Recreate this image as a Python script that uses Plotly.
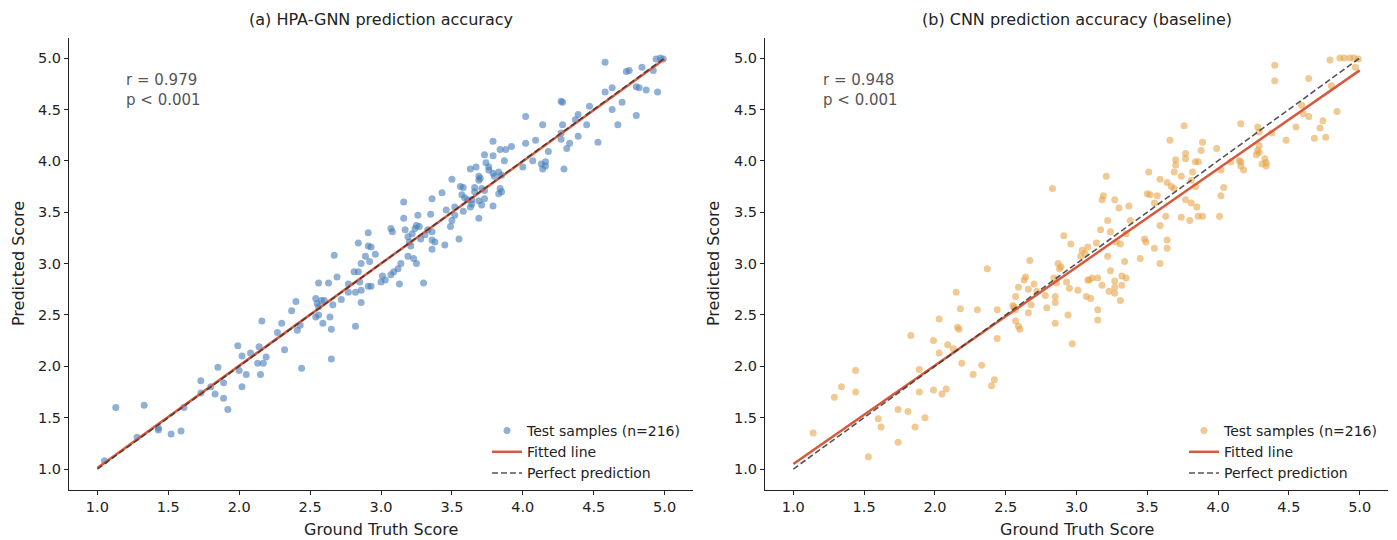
import plotly.graph_objects as go

W, H = 1397, 540

# ---------------- data ----------------
GNN_TRUE = [
    1.05, 1.13, 1.33, 1.28, 1.43, 1.43, 1.52, 1.59, 1.61, 1.73, 1.73, 1.80, 1.85, 1.83, 1.89, 1.89, 1.92, 1.99, 2.02, 2.00, 2.02,
    2.91, 3.07, 3.08, 2.84, 2.91, 2.93, 2.96, 2.89, 2.67, 2.86, 2.92, 2.81, 2.84, 2.69, 2.56, 2.63, 3.01, 3.07, 3.00, 3.03,
    2.91, 2.93, 2.86, 2.82, 2.77, 2.77, 2.85, 2.72, 2.66, 2.86, 2.54, 2.58, 2.60, 2.55, 2.56, 2.40, 2.37, 2.54, 2.56, 2.64,
    2.59, 2.65, 2.82, 2.43, 2.41, 2.30, 2.16, 2.27, 2.14, 2.08, 2.19, 2.32, 2.13, 2.17, 2.05, 2.15, 2.44, 2.65,
    4.02, 4.14, 3.79, 4.02, 4.09, 3.84, 3.88, 3.92, 3.73, 3.79, 4.07, 4.13, 3.87, 3.74, 3.76, 3.76, 3.63, 3.67, 4.00, 4.14,
    3.79, 3.83, 3.85, 3.80, 3.69, 3.70, 3.69, 3.50, 3.56, 3.58, 3.66, 3.66, 3.71, 3.73, 3.84, 3.85, 3.83, 3.43, 3.36, 3.16,
    3.57, 3.59, 3.61, 3.64, 3.69, 3.73, 3.71, 3.79, 3.63, 3.64, 3.46, 3.52, 3.58, 3.26, 3.35, 3.16, 3.52, 3.50, 3.69, 3.25,
    3.27, 3.24, 3.17, 3.19, 3.22, 3.31, 3.33, 3.36, 3.49, 3.28, 3.36, 3.38, 3.55, 3.20, 3.21, 3.45, 3.36, 3.19, 3.23, 3.25,
    3.14, 3.12, 3.09, 3.13, 3.30,
    4.94, 4.97, 4.99, 4.58, 4.84, 4.73, 4.75, 4.92, 4.80, 4.82, 4.87, 4.95, 4.63, 4.58, 4.70, 4.27, 4.28, 4.47, 4.63, 4.80,
    4.39, 4.37, 4.28, 4.45, 4.67, 4.27, 4.39, 4.27, 4.33, 4.31, 4.53, 4.18, 4.16, 4.16, 4.29,
]
GNN_PRED = [
    1.08, 1.60, 1.62, 1.31, 1.38, 1.40, 1.34, 1.37, 1.60, 1.86, 1.74, 1.80, 1.99, 1.73, 1.84, 1.69, 1.58, 2.20, 2.10, 1.96, 1.80,
    3.30, 3.34, 3.31, 3.20, 3.17, 3.16, 3.09, 3.07, 3.08, 3.00, 3.02, 2.92, 2.92, 2.87, 2.81, 2.81, 2.88, 2.89, 2.82, 2.84,
    2.78, 2.78, 2.74, 2.72, 2.72, 2.80, 2.82, 2.65, 2.60, 2.62, 2.66, 2.64, 2.64, 2.61, 2.58, 2.63, 2.54, 2.48, 2.50, 2.48,
    2.42, 2.36, 2.39, 2.40, 2.35, 2.42, 2.44, 2.33, 2.19, 2.13, 2.09, 2.16, 2.03, 2.03, 1.92, 1.92, 1.98, 2.07,
    4.43, 4.35, 4.19, 4.17, 4.20, 4.11, 4.11, 4.14, 4.06, 4.05, 4.00, 3.97, 4.00, 3.98, 3.94, 3.91, 3.92, 3.94, 3.94, 3.92,
    3.88, 3.89, 3.86, 3.85, 3.85, 3.83, 3.81, 3.82, 3.75, 3.74, 3.74, 3.70, 3.73, 3.71, 3.73, 3.70, 3.68, 3.69, 3.63, 3.60,
    3.67, 3.64, 3.62, 3.62, 3.61, 3.63, 3.57, 3.56, 3.55, 3.58, 3.52, 3.55, 3.51, 3.47, 3.48, 3.44, 3.47, 3.42, 3.44, 3.37,
    3.36, 3.34, 3.33, 3.26, 3.29, 3.28, 3.33, 3.31, 3.36, 3.24, 3.23, 3.21, 3.24, 3.21, 3.17, 3.18, 3.14, 3.07, 3.05, 3.00,
    3.00, 2.95, 2.92, 2.80, 2.81,
    4.99, 5.00, 4.99, 4.96, 4.91, 4.87, 4.88, 4.88, 4.72, 4.71, 4.69, 4.67, 4.71, 4.67, 4.57, 4.58, 4.57, 4.53, 4.50, 4.44,
    4.45, 4.40, 4.35, 4.35, 4.35, 4.27, 4.24, 4.21, 4.17, 4.12, 4.18, 4.09, 3.99, 3.95, 3.92,
]

CNN_TRUE = [
    2.03, 1.83, 1.99, 2.03, 1.44, 1.89, 1.34, 1.29, 1.44, 1.89, 1.99, 2.05, 1.74, 1.81, 1.93, 1.60, 1.62, 1.86, 1.14, 1.74, 1.53,
    2.83, 2.91, 2.96, 3.04, 3.03, 2.67, 2.87, 2.89, 2.88, 2.37, 2.64, 2.63, 2.70, 2.59, 2.66, 2.84, 2.86, 2.93, 2.95, 3.01,
    3.08, 3.11, 2.72, 2.78, 2.57, 2.56, 2.15, 2.85, 2.85, 3.07, 3.10, 2.68, 2.44, 2.30, 2.18, 2.55, 2.57, 2.79, 2.66, 2.94,
    2.57, 2.59, 2.60, 2.85, 2.16, 2.17, 2.44, 2.09, 2.13, 2.97, 2.19, 2.33,
    2.27, 2.42, 2.40, 2.08, 3.31, 3.15, 3.15,
    3.76, 4.16, 3.66, 3.89, 3.88, 3.99, 3.77, 3.70, 3.77, 3.70, 3.84, 3.86, 4.09, 4.16, 4.18, 3.51, 3.69, 3.82, 3.74, 4.02,
    3.59, 3.64, 3.67, 3.69, 3.21, 3.81, 3.84, 4.04, 4.02, 3.50, 3.52, 3.57, 3.19, 3.18, 3.27, 3.77, 3.81, 3.30, 3.37, 3.55,
    3.85, 3.63, 3.74, 3.80, 3.86, 3.89, 4.01, 3.22, 3.38, 3.59, 3.17, 3.24, 3.35, 3.31, 3.28, 3.48, 3.49, 3.64, 3.55, 3.64,
    3.14, 3.08, 3.06, 3.22, 3.34, 3.45, 3.59, 3.24, 3.32, 3.15, 3.09, 3.27, 3.35, 3.18, 3.27, 3.32, 3.23, 3.27,
    4.79, 4.86, 4.89, 4.93, 4.96, 4.99, 4.40, 4.40, 4.64, 4.97, 4.80, 4.59, 4.60, 4.64, 4.84, 4.74, 4.28, 4.29, 4.55, 4.72,
    4.38, 4.48, 4.68, 4.76, 4.29, 4.28, 4.29, 4.27, 4.33, 4.34, 4.31, 4.34, 4.15, 4.16,
]
CNN_PRED = [
    2.46, 2.30, 2.25, 2.13, 1.96, 1.97, 1.80, 1.70, 1.75, 1.75, 1.77, 1.73, 1.58, 1.56, 1.50, 1.49, 1.41, 1.41, 1.35, 1.26, 1.12,
    3.73, 3.27, 3.19, 3.13, 3.07, 3.03, 3.00, 2.97, 2.95, 2.95, 2.87, 2.84, 2.80, 2.77, 2.75, 2.86, 2.81, 2.82, 2.76, 2.74,
    2.84, 2.86, 2.73, 2.69, 2.68, 2.58, 2.72, 2.68, 2.62, 2.68, 2.66, 2.60, 2.55, 2.55, 2.56, 2.59, 2.55, 2.57, 2.52, 2.50,
    2.44, 2.39, 2.36, 2.42, 2.38, 2.36, 2.27, 2.21, 2.17, 2.22, 2.03, 2.01,
    1.92, 1.87, 1.81, 1.78, 2.64, 2.55, 2.45,
    4.34, 4.36, 4.20, 4.18, 4.10, 4.12, 4.07, 4.01, 4.02, 3.96, 3.99, 3.99, 3.99, 3.99, 3.91, 3.89, 3.89, 3.89, 3.85, 3.91,
    3.82, 3.79, 3.75, 3.73, 3.85, 3.81, 3.75, 3.74, 3.66, 3.68, 3.67, 3.66, 3.66, 3.62, 3.62, 3.62, 3.59, 3.54, 3.56, 3.59,
    3.55, 3.46, 3.45, 3.42, 3.46, 3.46, 3.46, 3.42, 3.42, 3.37, 3.33, 3.31, 3.29, 3.19, 3.21, 3.24, 3.21, 3.23, 3.15, 3.15,
    3.20, 3.16, 3.10, 3.07, 3.02, 3.05, 3.00, 2.93, 2.88, 2.86, 2.84, 2.83, 2.86, 2.79, 2.77, 2.79, 2.73, 2.71,
    4.98, 5.00, 5.00, 5.00, 5.00, 4.99, 4.93, 4.78, 4.80, 4.91, 4.73, 4.54, 4.46, 4.43, 4.48, 4.39, 4.33, 4.28, 4.33, 4.32,
    4.27, 4.20, 4.22, 4.23, 4.15, 4.10, 4.08, 4.06, 4.02, 3.98, 3.97, 3.95, 4.00, 3.95,
]

# fitted-line coefficients (slope, intercept) and line extent
FIT_GNN = [0.995, 0.015]
FIT_CNN = [0.9575, 0.0925]
LINE_X = [1.0, 5.0]

STATS_GNN = "r = 0.979<br>p &lt; 0.001"
STATS_CNN = "r = 0.948<br>p &lt; 0.001"
TITLES = ["(a) HPA-GNN prediction accuracy", "(b) CNN prediction accuracy (baseline)"]
X_LABEL = "Ground Truth Score"
Y_LABEL = "Predicted Score"
N_LABEL = "Test samples (n=216)"
TICKS = [1.0, 1.5, 2.0, 2.5, 3.0, 3.5, 4.0, 4.5, 5.0]

# ---------------- styling ----------------
FONT = "DejaVu Sans"
BLUE = "rgba(70,125,185,0.6)"
ORANGE = "rgba(230,165,75,0.6)"
RED = "#D9583B"
DASH = "rgba(55,55,55,0.85)"

fig = go.Figure()

panels = [
    ("x", "y", GNN_TRUE, GNN_PRED, BLUE, FIT_GNN, "legend"),
    ("x2", "y2", CNN_TRUE, CNN_PRED, ORANGE, FIT_CNN, "legend2"),
]
for xa, ya, xs, ys, col, fit, leg in panels:
    fig.add_trace(go.Scatter(
        x=xs, y=ys, mode="markers", xaxis=xa, yaxis=ya, name=N_LABEL, legend=leg,
        marker=dict(size=7, color=col, line=dict(width=0)),
    ))
    fig.add_trace(go.Scatter(
        x=LINE_X, y=[fit[0] * v + fit[1] for v in LINE_X], mode="lines",
        xaxis=xa, yaxis=ya, name="Fitted line", legend=leg,
        line=dict(color=RED, width=2.5),
    ))
    fig.add_trace(go.Scatter(
        x=LINE_X, y=LINE_X, mode="lines", xaxis=xa, yaxis=ya,
        name="Perfect prediction", legend=leg,
        line=dict(color=DASH, width=1.6, dash="6px,3px"),
    ))

ax_common = dict(
    range=[0.8, 5.2], showgrid=False, zeroline=False, showline=True,
    linecolor="#222", linewidth=1, ticks="outside", ticklen=4, tickwidth=1,
    tickcolor="#222", tickvals=TICKS, ticktext=[f"{t:.1f}" for t in TICKS],
    tickfont=dict(family=FONT, size=14.5, color="#222"), automargin=False,
    fixedrange=True,
)
ydom = [1 - 489.6 / H, 1 - 37.5 / H]
leg_common = dict(xanchor="left", yanchor="top", bgcolor="rgba(0,0,0,0)",
                  font=dict(family=FONT, size=14, color="#222"),
                  tracegroupgap=0, itemwidth=30)
fig.update_layout(
    width=W, height=H, margin=dict(l=0, r=0, t=0, b=0),
    paper_bgcolor="white", plot_bgcolor="white",
    font=dict(family=FONT, size=14, color="#222"),
    xaxis=dict(domain=[69 / W, 693 / W], anchor="y", **ax_common),
    yaxis=dict(domain=ydom, anchor="x", **ax_common),
    xaxis2=dict(domain=[765 / W, 1388 / W], anchor="y2", **ax_common),
    yaxis2=dict(domain=ydom, anchor="x2", **ax_common),
    legend=dict(x=487 / W, y=1 - 415 / H, **leg_common),
    legend2=dict(x=1184 / W, y=1 - 415 / H, **leg_common),
    showlegend=True,
)

ann = []
for cx, title, stats, sx, ylx in [(381, TITLES[0], STATS_GNN, 124, 18), (1077, TITLES[1], STATS_CNN, 821, 713)]:
    ann.append(dict(text=title, x=cx / W, y=1 - 20 / H, xref="paper", yref="paper",
                    xanchor="center", yanchor="middle", showarrow=False,
                    font=dict(family=FONT, size=16, color="#222")))
    ann.append(dict(text=X_LABEL, x=cx / W, y=1 - 529 / H, xref="paper", yref="paper",
                    xanchor="center", yanchor="middle", showarrow=False,
                    font=dict(family=FONT, size=16, color="#222")))
    ann.append(dict(text=Y_LABEL, x=ylx / W, y=1 - 264 / H, xref="paper", yref="paper",
                    xanchor="center", yanchor="middle", showarrow=False, textangle=-90,
                    font=dict(family=FONT, size=16, color="#222")))
    ann.append(dict(text=stats, x=sx / W, y=1 - 69 / H, xref="paper", yref="paper",
                    xanchor="left", yanchor="top", align="left", showarrow=False,
                    font=dict(family=FONT, size=15, color="#555")))
fig.update_layout(annotations=ann)

fig.write_html("out.html")
